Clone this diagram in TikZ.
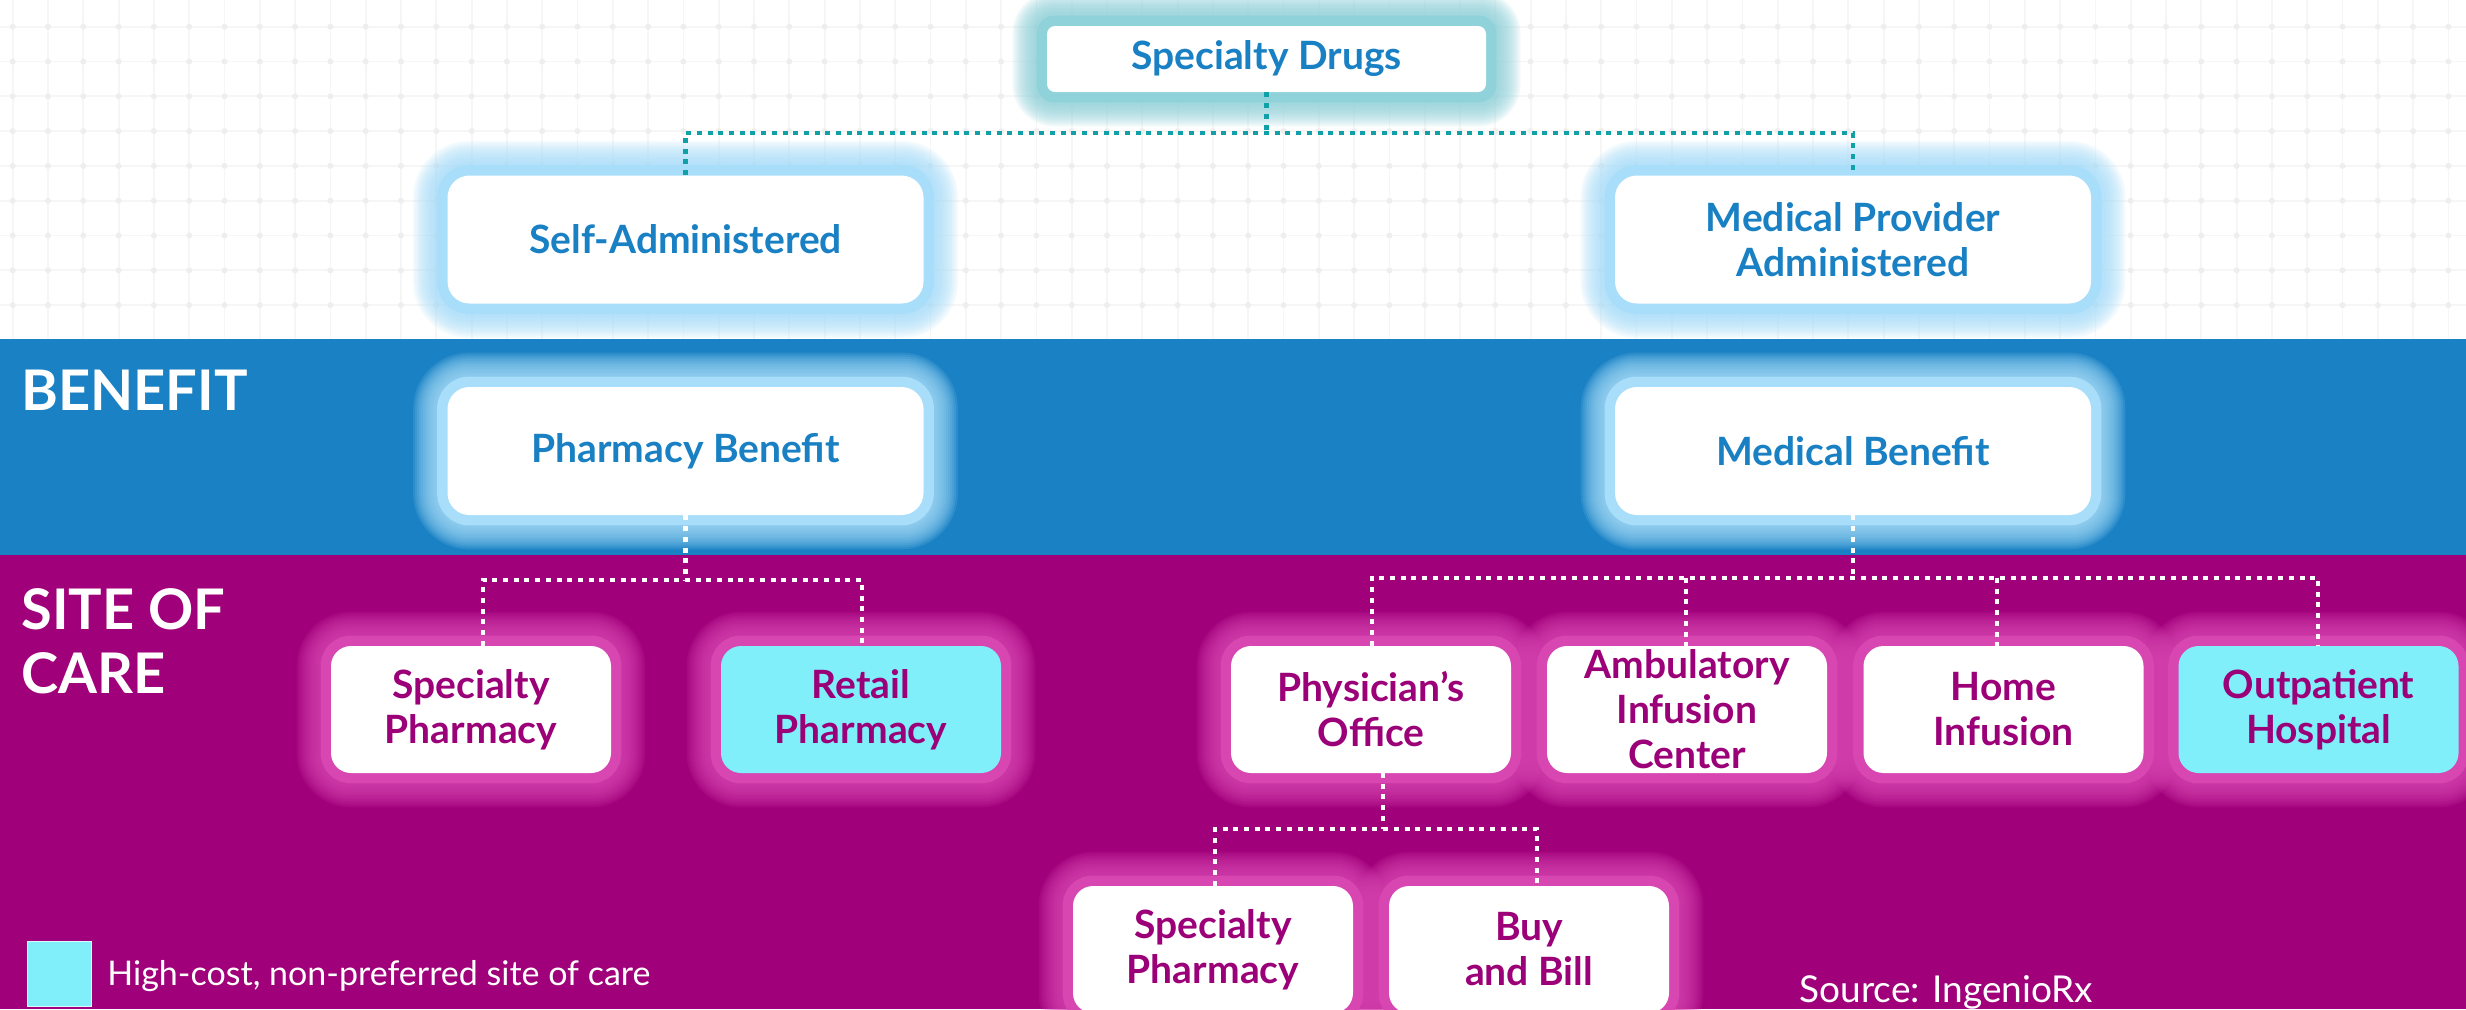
\documentclass[tikz,border=0pt]{standalone}
\usepackage{fontspec}
\setmainfont{Lato}
\usetikzlibrary{calc}
\pgfdeclarelayer{back}
\pgfdeclarelayer{glowlayer}
\pgfsetlayers{back,glowlayer,main}

\definecolor{bandblue}{HTML}{1A82C4}
\definecolor{bandmag}{HTML}{A0007A}
\definecolor{txtblue}{HTML}{1A80C4}
\definecolor{txtmag}{HTML}{9C0078}
\definecolor{cyanbox}{HTML}{80EFFA}
\definecolor{tealline}{HTML}{0FA0A8}
\definecolor{tealglow}{HTML}{8FD2DA}
\definecolor{skyglow}{HTML}{A8DEFA}
\definecolor{pinkglow}{HTML}{D846B2}
\definecolor{gridline}{HTML}{F6F6F6}
\definecolor{griddot}{HTML}{EEEEEE}

% soft halo behind a node: node name, colour, corner radius (px)
\newcommand\halo[3]{%
  \begin{pgfonlayer}{glowlayer}
    \begin{scope}[yshift=-1.5pt]
    \fill[#2, rounded corners=#3*0.5pt+5pt]
      ($(#1.north west)+(-10,-10)$) rectangle ($(#1.south east)+(10,10)$);
    \foreach \r in {12,14,...,34}{
      \fill[#2, opacity=0.13, rounded corners=#3*0.5pt+\r*0.5pt]
        ($(#1.north west)+(-\r,-\r)$) rectangle ($(#1.south east)+(\r,\r)$);
    }
    \end{scope}
  \end{pgfonlayer}}

\begin{document}
\begin{tikzpicture}[x=0.5pt,y=-0.5pt,
  boxbase/.style={rectangle, fill=white, align=center, inner sep=0pt},
  topbox/.style={boxbase, rounded corners=11pt, minimum width=238pt, minimum height=64pt,
    text=txtblue, font=\fontsize{19.5}{22.5}\selectfont\bfseries},
  sitebox/.style={boxbase, rounded corners=10pt, minimum width=140pt, minimum height=63.5pt,
    text=txtmag, font=\fontsize{19.5}{22.5}\selectfont\bfseries},
  costly/.style={fill=cyanbox},
  heading/.style={text=white, inner sep=0pt, anchor=base west, font=\fontsize{28}{32}\selectfont\bfseries},
  tealdots/.style={draw=tealline, line width=2.4pt, dash pattern=on 2.5pt off 2.85pt},
  whitedots/.style={draw=white, line width=2.4pt, dash pattern=on 2.5pt off 2.85pt},
]
\useasboundingbox (0,0) rectangle (2466,1009);

% bands and background grid
\begin{pgfonlayer}{back}
  \fill[white] (0,0) rectangle (2466,339);
  \foreach \gx in {12.7,48,...,2466}
    \draw[gridline, line width=0.9pt] (\gx,0) -- (\gx,339);
  \foreach \gy in {26.7,61.5,...,339}
    \draw[gridline, line width=0.9pt] (0,\gy) -- (2466,\gy);
  \foreach \gx in {12.7,48,...,2466}
    \foreach \gy in {26.7,61.5,...,339}
      \fill[griddot] (\gx,\gy) circle (1.5pt);
  \fill[bandblue] (0,339) rectangle (2466,555);
  \fill[bandmag] (0,555) rectangle (2466,1009);
\end{pgfonlayer}

% section headings
\node[heading] (hbenefit) at (21,410) {BENEFIT};
\node[heading] (hsite) at (21,629) {SITE OF};
\node[heading] (hcare) at (21,693) {CARE};

% tree nodes
\node[topbox, minimum width=219.5pt, minimum height=33pt, rounded corners=4pt] (sd) at (1266.5,59) {Specialty Drugs};
\node[topbox] (self) at (685.5,239.5) {Self-Administered};
\node[topbox] (mpa) at (1853,239.5) {Medical Provider\\Administered};
\node[topbox] (pb) at (685.5,451) {Pharmacy Benefit};
\node[topbox] (mb) at (1853,451) {Medical Benefit};

\node[sitebox] (sp1) at (471,709.5) {Specialty\\Pharmacy};
\node[sitebox, costly] (rp) at (861,709.5) {Retail\\Pharmacy};
\node[sitebox] (po) at (1371,709.5) {Physician’s\\Office};
\node[sitebox] (aic) at (1687,709.5) {Ambulatory\\Infusion\\Center};
\node[sitebox] (hi) at (2003.5,709.5) {Home\\Infusion};
\node[sitebox, costly] (oh) at (2318.5,709.5) {Outpatient\\Hospital};
\node[sitebox] (sp2) at (1213,949.5) {Specialty\\Pharmacy};
\node[sitebox] (bb) at (1529,949.5) {Buy\\and Bill};

% halos
\halo{sd}{tealglow}{8}
\foreach \n in {self,mpa,pb,mb}{\halo{\n}{skyglow}{22}}
\foreach \n in {sp1,rp,po,aic,hi,oh,sp2,bb}{\halo{\n}{pinkglow}{20}}

% connectors
\coordinate (busA) at (1266.5,133);
\draw[tealdots] (sd.south) -- (busA);
\draw[tealdots] (self.north) |- (busA) -| (mpa.north);

\coordinate (busB) at (685.5,580);
\coordinate (b1l) at (483,580);
\coordinate (b1r) at (862,580);
\draw[whitedots] (pb.south) -- (busB);
\draw[whitedots] (b1l |- sp1.north) -- (b1l) -- (b1r) -- (b1r |- rp.north);

\coordinate (busC) at (1853,578);
\coordinate (c1) at (1372,578);
\coordinate (c2) at (1686,578);
\coordinate (c3) at (1997,578);
\coordinate (c4) at (2318,578);
\draw[whitedots] (mb.south) -- (busC);
\draw[whitedots] (c1 |- po.north) -- (c1) -- (c4) -- (c4 |- oh.north);
\draw[whitedots] (c2) -- (c2 |- aic.north);
\draw[whitedots] (c3) -- (c3 |- hi.north);

\coordinate (pdrop) at (1383,773);
\coordinate (busD) at (1383,829);
\coordinate (d1) at (1215,829);
\coordinate (d2) at (1537,829);
\draw[whitedots] (pdrop) -- (busD);
\draw[whitedots] (d1 |- sp2.north) -- (d1) -- (d2) -- (d2 |- bb.north);

% legend and source
\node[fill=cyanbox, draw=white!70!cyanbox, line width=0.3pt, minimum width=32pt, minimum height=32.5pt, inner sep=0pt] (lg) at (59,973.5) {};
\node[text=white, inner sep=0pt, anchor=base west, font=\fontsize{17}{20}\selectfont] (lgtext) at (107,985) {High-cost, non-preferred site of care};
\node[text=white, inner sep=0pt, anchor=base west, font=\fontsize{18.5}{20}\selectfont] (src) at (1799,1002) {Source: IngenioRx};
\end{tikzpicture}
\end{document}
